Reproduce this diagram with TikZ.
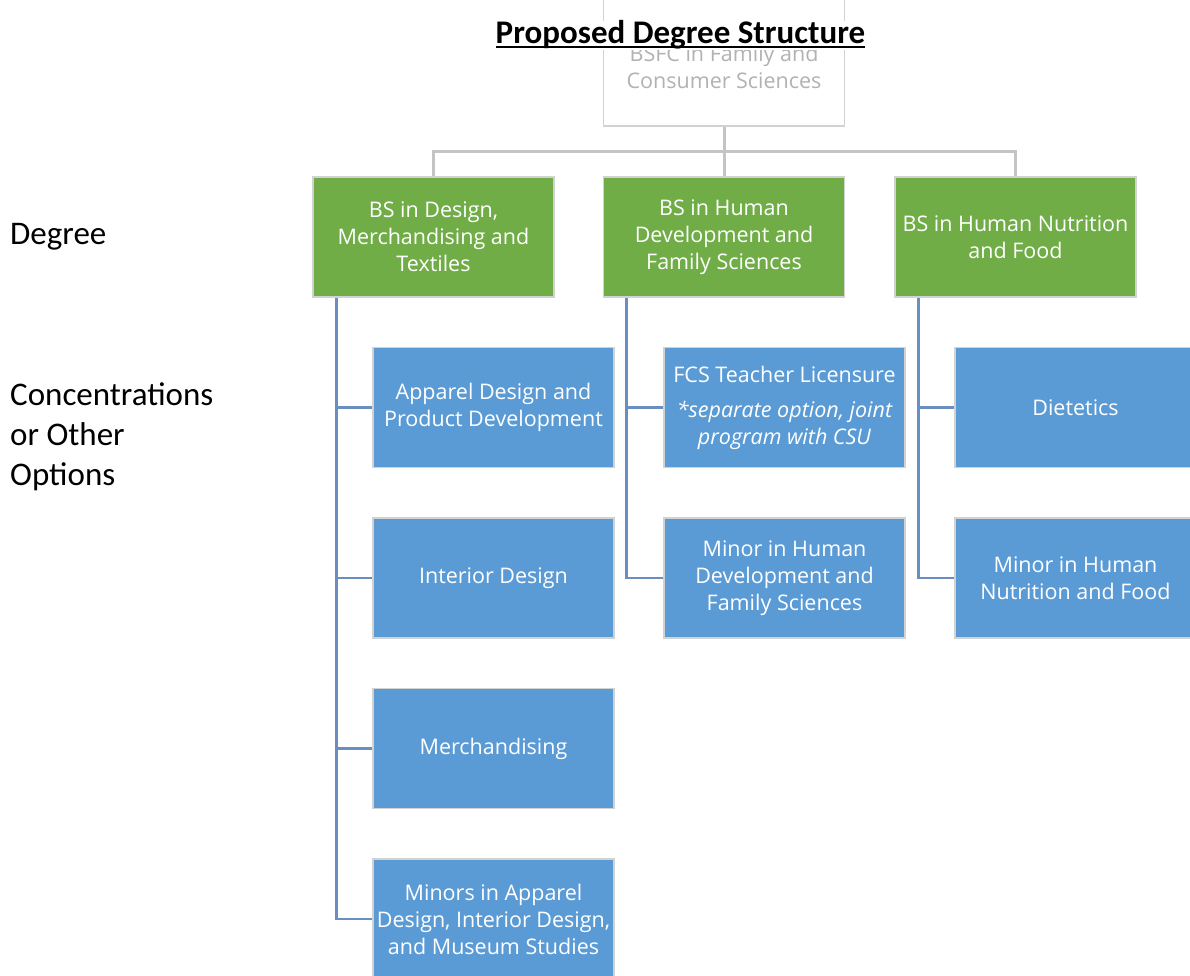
\documentclass[tikz,border=0pt]{standalone}
\usepackage{fontspec}
\setmainfont{Carlito}
\newfontfamily\boxfont{Open Sans}
\definecolor{grn}{HTML}{70AD47}
\definecolor{blu}{HTML}{5B9BD5}
\definecolor{bline}{HTML}{6A8EC0}
\definecolor{gline}{HTML}{C4C4C4}
\definecolor{bord}{HTML}{D2D2D2}
\tikzset{
  x=1pt, y=-1pt,
  boxbase/.style={minimum width=241pt, minimum height=120pt, draw=bord, line width=1.5pt,
    text=white, align=center, inner sep=2pt, font=\boxfont\fontsize{21.5}{27}\selectfont},
  degbox/.style={boxbase, fill=grn},
  optbox/.style={boxbase, fill=blu},
  topbox/.style={boxbase, fill=white, text=black!28},
  gconn/.style={draw=gline, line width=3pt},
  bconn/.style={draw=bline, line width=2.6pt},
  lbl/.style={anchor=west, align=left, inner sep=0pt, font=\fontsize{33}{40}\selectfont}
}
\begin{document}
\begin{tikzpicture}
\clip (0,0) rectangle (1190,976);
\useasboundingbox (0,0) rectangle (1190,976);
\fill[white] (0,0) rectangle (1190,976);
% top box (extends above the page)
\node[topbox, minimum height=134pt] (T) at (724,59) {};
\node[text=black!30, align=center, inner sep=0pt, font=\boxfont\fontsize{21.5}{27}\selectfont] (Ttext) at (724,67) {BSFC in Family and\\Consumer Sciences};
% title
\node[fill=white, inner sep=0pt, anchor=base, font=\bfseries\fontsize{33}{40}\selectfont] (title) at (680.5,44) {Proposed Degree Structure};
\draw[line width=2pt] ([yshift=-3.5pt]title.base west) -- ([yshift=-3.5pt]title.base east);
% degrees
\node[degbox] (G1) at (433.5,237) {BS in Design,\\Merchandising and\\Textiles};
\node[degbox] (G2) at (724,237) {BS in Human\\Development and\\Family Sciences};
\node[degbox] (G3) at (1015.5,237) {BS in Human Nutrition\\and Food};
% options col 1
\node[optbox] (A1) at (493.5,407.5) {Apparel Design and\\Product Development};
\node[optbox] (A2) at (493.5,578) {Interior Design};
\node[optbox] (A3) at (493.5,748.5) {Merchandising};
\node[optbox] (A4) at (493.5,919) {Minors in Apparel\\Design, Interior Design,\\and Museum Studies};
% col 2
\node[optbox] (B1) at (784.5,407.5) {FCS Teacher Licensure\\[8pt]\itshape *separate option, joint\\\itshape program with CSU};
\node[optbox] (B2) at (784.5,578) {Minor in Human\\Development and\\Family Sciences};
% col 3
\node[optbox] (C1) at (1075.5,407.5) {Dietetics};
\node[optbox] (C2) at (1075.5,578) {Minor in Human\\Nutrition and Food};
% gray connectors
\coordinate (hub) at (724,152);
\draw[gconn] (T.south) -- (hub);
\draw[gconn] (hub) -| (G1.north);
\draw[gconn] (hub) -- (G2.north);
\draw[gconn] (hub) -| (G3.north);
% blue connectors
\coordinate (s1) at ([xshift=24pt]G1.south west);
\coordinate (s2) at ([xshift=24pt]G2.south west);
\coordinate (s3) at ([xshift=24pt]G3.south west);
\draw[bconn] (s1) |- (A4.west);
\draw[bconn] (s1) |- (A1.west);
\draw[bconn] (s1) |- (A2.west);
\draw[bconn] (s1) |- (A3.west);
\draw[bconn] (s2) |- (B2.west);
\draw[bconn] (s2) |- (B1.west);
\draw[bconn] (s3) |- (C2.west);
\draw[bconn] (s3) |- (C1.west);
% left labels
\node[lbl] (deg) at (10,237) {Degree};
\node[lbl] (conc) at (10,437) {Concentrations\\or Other\\Options};
\end{tikzpicture}
\end{document}
